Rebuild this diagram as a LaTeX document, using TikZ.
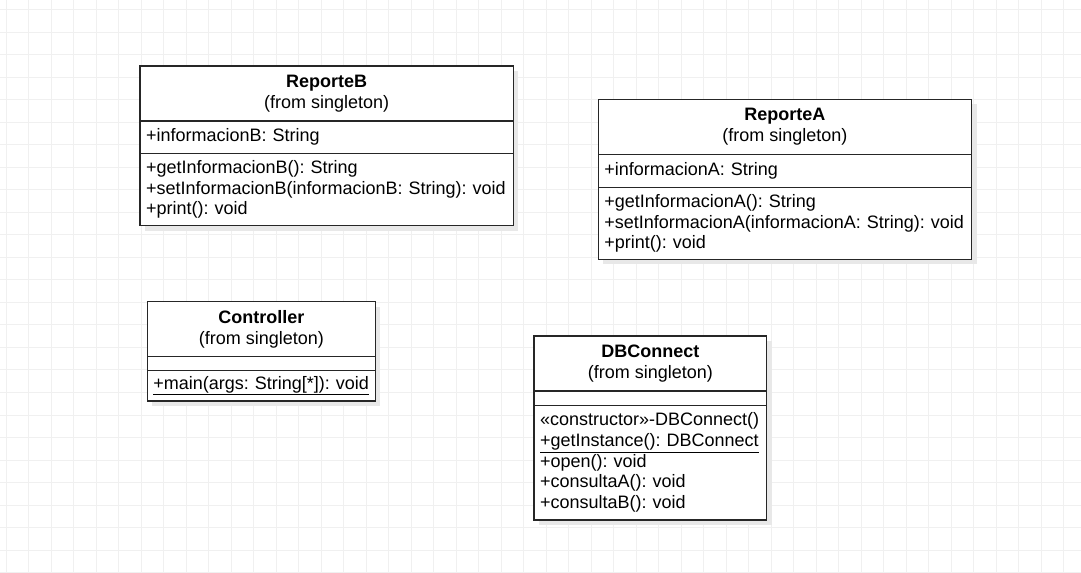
\documentclass[tikz,border=0pt]{standalone}
\usepackage{fontspec}
\setmainfont{Liberation Sans}
\usetikzlibrary{positioning, shadows}

\begin{document}
\begin{tikzpicture}[
    x=0.75pt, y=-0.75pt,
    font=\fontsize{13.5}{15.5}\selectfont\frenchspacing,
    node distance=0pt,
    gridline/.style={black!6, line width=0.75pt},
    classbox/.style={draw=black!85, line width=1pt, fill=white, outer sep=0pt, inner sep=0pt,
        drop shadow={shadow xshift=3.75pt, shadow yshift=-3.75pt, fill=black!9, opacity=1}},
    classhead/.style={classbox, align=center, minimum width=#1, minimum height=41.25pt},
    members/.style={classbox, align=left, inner xsep=4.5pt, text width=#1}
]
\useasboundingbox (0,0) rectangle (1081,573);
\fill[white] (0,0) rectangle (1081,573);
% background grid
\foreach \i in {0,...,47} \draw[gridline] (6+22.5*\i,0) -- (6+22.5*\i,573);
\foreach \j in {0,...,25} \draw[gridline] (0,10+22.5*\j) -- (1081,10+22.5*\j);

% ReporteB
\node[classhead=280pt, anchor=north west] (rbHead) at (140,66) {\textbf{ReporteB}\\(from singleton)};
\node[members=271pt, minimum height=24.2pt, below=of rbHead] (rbAttr) {+informacionB: String};
\node[members=271pt, minimum height=54.3pt, below=of rbAttr] (rbOps)
    {+getInformacionB(): String\\+setInformacionB(informacionB: String): void\\+print(): void};

% ReporteA
\node[classhead=280pt, anchor=north west] (raHead) at (598.3,99.3) {\textbf{ReporteA}\\(from singleton)};
\node[members=271pt, minimum height=25pt, below=of raHead] (raAttr) {+informacionA: String};
\node[members=271pt, minimum height=53.7pt, below=of raAttr] (raOps)
    {+getInformacionA(): String\\+setInformacionA(informacionA: String): void\\+print(): void};

% Controller
\node[classhead=171pt, anchor=north west] (ctHead) at (147.3,301.7) {\textbf{Controller}\\(from singleton)};
\node[members=162pt, minimum height=10.5pt, below=of ctHead] (ctAttr) {};
\node[members=162pt, minimum height=22.7pt, below=of ctAttr] (ctOps) {\underline{+main(args: String[*]): void}};

% DBConnect
\node[classhead=174.5pt, anchor=north west] (dbHead) at (534,336) {\textbf{DBConnect}\\(from singleton)};
\node[members=165.5pt, minimum height=10.7pt, below=of dbHead] (dbAttr) {};
\node[members=165.5pt, minimum height=86pt, below=of dbAttr] (dbOps)
    {«constructor»-DBConnect()\\\underline{+getInstance(): DBConnect}\\+open(): void\\+consultaA(): void\\+consultaB(): void};
\end{tikzpicture}
\end{document}
